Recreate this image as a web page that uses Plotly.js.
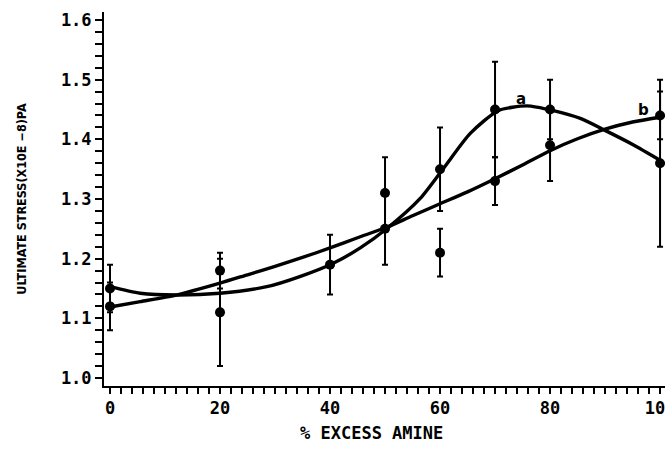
<!DOCTYPE html>
<html>
<head>
<meta charset="utf-8">
<script src="https://cdn.plot.ly/plotly-3.0.1.min.js"></script>
<style>html,body{margin:0;padding:0;background:#fff;}</style>
</head>
<body>
<div id="chart" style="width:665px;height:464px;"></div>
<script>
// Measured data points (% excess amine, ultimate stress x1e8 Pa) with error bars
var pointX   = [0, 0, 20, 20, 40, 50, 50, 60, 60, 70, 70, 80, 80, 100, 100];
var pointY   = [1.15, 1.12, 1.18, 1.11, 1.19, 1.31, 1.25, 1.35, 1.21, 1.45, 1.33, 1.45, 1.39, 1.44, 1.36];
var pointErr = [0.04, 0.04, 0.03, 0.09, 0.05, 0.06, 0.06, 0.07, 0.04, 0.08, 0.04, 0.05, 0.06, 0.04, 0.14];

// Fitted curve a
var curveAX = [0, 5.5, 12, 20, 28.5, 34.5, 40.5, 45.5, 50.4, 56.4, 60.6, 65.5, 70.6, 75.8, 80.6, 85.5, 90, 95.1, 100];
var curveAY = [1.153, 1.142, 1.139, 1.142, 1.153, 1.170, 1.192, 1.218, 1.251, 1.301, 1.351, 1.410, 1.448, 1.456, 1.448, 1.435, 1.415, 1.391, 1.365];
// Fitted curve b
var curveBX = [0, 5.5, 12, 20, 25, 30, 35, 40, 45, 50.4, 55, 60, 65, 70, 75, 80, 85, 90, 95, 100];
var curveBY = [1.119, 1.128, 1.139, 1.159, 1.173, 1.187, 1.202, 1.218, 1.235, 1.253, 1.272, 1.292, 1.312, 1.334, 1.357, 1.381, 1.401, 1.417, 1.429, 1.437];

var curveLabels = ['a', 'b'];
var labelX = [74.8, 97];
var labelY = [1.468, 1.449];

var xTitle = '% EXCESS AMINE';
var yTitle = 'ULTIMATE STRESS(X10E −8)PA';

// Axis tick marks: every 2 % on x (labelled every 20), every 0.02 on y (labelled every 0.1)
var xTickVals = [], xTickText = [];
for (var i = 0; i <= 50; i++) { xTickVals.push(i * 2); xTickText.push(i % 10 === 0 ? String(i * 2) : ''); }
var yTickVals = [], yTickText = [];
for (var k = 0; k <= 30; k++) { var v = Math.round((1 + k * 0.02) * 100) / 100; yTickVals.push(v); yTickText.push(k % 5 === 0 ? v.toFixed(1) : ''); }

var xRange = [-1.09, 100.9];
var yRange = [0.9866, 1.6134];

var traces = [
  {x: curveAX, y: curveAY, mode: 'lines', name: 'a',
   line: {color: '#000', width: 3.4, shape: 'spline', smoothing: 0.7}, hoverinfo: 'skip'},
  {x: curveBX, y: curveBY, mode: 'lines', name: 'b',
   line: {color: '#000', width: 3.4, shape: 'spline', smoothing: 0.7}, hoverinfo: 'skip'},
  {x: pointX, y: pointY, mode: 'markers', name: 'data',
   marker: {color: '#000', size: 10},
   error_y: {type: 'data', array: pointErr, visible: true, color: '#000', thickness: 2, width: 3}}
];

var annotations = curveLabels.map(function (t, i) {
  return {x: labelX[i], y: labelY[i], text: t, showarrow: false,
          font: {family: 'DejaVu Sans, sans-serif', size: 15, color: '#000', weight: 'bold'}};
});
annotations.push({xref: 'paper', yref: 'paper', x: (371 - 104) / 561, y: -0.126,
  xanchor: 'center', yanchor: 'middle', showarrow: false, text: xTitle,
  font: {family: 'DejaVu Sans Mono, monospace', size: 17, color: '#000', weight: 'bold'}});

var tickFont = {family: 'DejaVu Sans Mono, monospace', size: 17, color: '#000', weight: 'bold'};

var layout = {
  width: 665, height: 464,
  margin: {l: 104, r: 0, t: 12, b: 78, pad: 0},
  paper_bgcolor: '#fff', plot_bgcolor: '#fff',
  showlegend: false,
  xaxis: {
    range: xRange, tickmode: 'array', tickvals: xTickVals, ticktext: xTickText,
    ticklabeloverflow: 'allow',
    showgrid: false, zeroline: false,
    showline: true, linecolor: '#000', linewidth: 2,
    ticks: 'outside', ticklen: 6, tickwidth: 2, tickcolor: '#000',
    tickfont: tickFont
  },
  yaxis: {
    range: yRange, tickmode: 'array', tickvals: yTickVals, ticktext: yTickText,
    showgrid: false, zeroline: false,
    showline: true, linecolor: '#000', linewidth: 2,
    ticks: 'outside', ticklen: 7, tickwidth: 2, tickcolor: '#000',
    tickfont: tickFont,
    title: {text: yTitle, standoff: 32,
            font: {family: 'DejaVu Sans Condensed, DejaVu Sans, sans-serif', size: 12.5, color: '#000', weight: 'bold'}}
  },
  annotations: annotations
};

Plotly.newPlot('chart', traces, layout, {displayModeBar: false});
</script>
</body>
</html>
